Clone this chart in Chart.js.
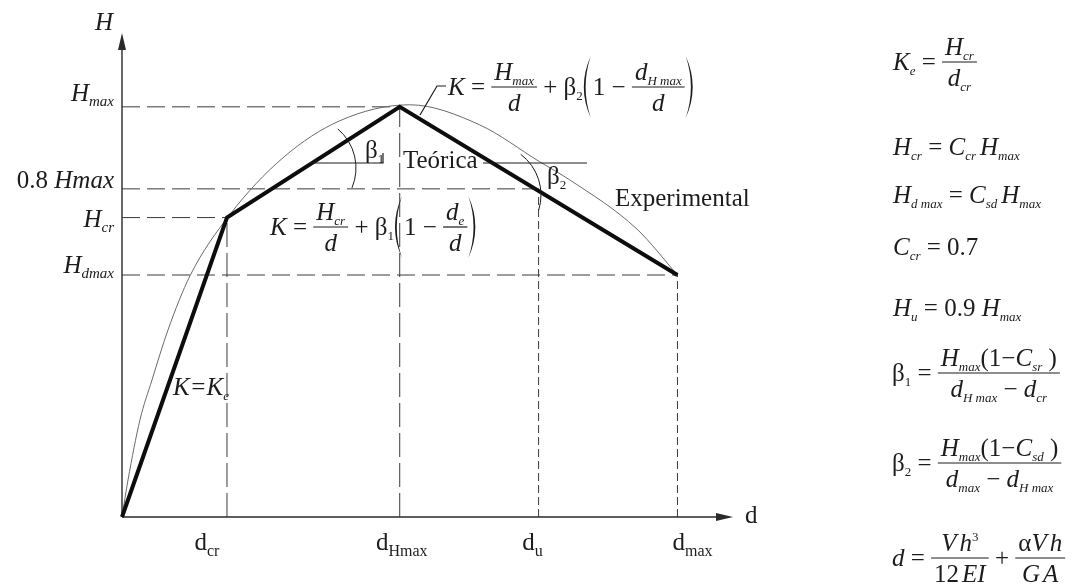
<!DOCTYPE html>
<html>
<head>
<meta charset="utf-8">
<script src="https://cdn.jsdelivr.net/npm/chart.js@4.4.1/dist/chart.umd.min.js"></script>
<style>
    body { margin: 0; background: #ffffff; }
    #wrap { width: 1079px; height: 584px; }
</style>
</head>
<body>
<div id="wrap"><canvas id="diagram" width="1079" height="584"></canvas></div>
<script>
// Lateral load H against displacement d, in units of H_max and d_max/10
const expD = [0, 1.89, 5.0, 10.0];
const expH = [0, 0.73, 1.0, 0.59];

const theoD = [0, 0.108, 0.324, 0.54, 0.828, 1.224, 1.94, 2.9, 3.92, 5.18, 6.44, 7.52, 8.06, 9.27, 10.0];
const theoH = [0, 0.09, 0.237, 0.334, 0.456, 0.588, 0.737, 0.876, 0.966, 1.005, 0.956, 0.866, 0.822, 0.702, 0.59];

// reference levels on the H axis and where each dashed line stops
const hLevels = [1.0, 0.8, 0.73, 0.59];
const hLevelEnds = [5.0, 7.5, 1.89, 10.0];
const hLabels = ['H_max', '0.8 Hmax', 'H_cr', 'H_dmax'];

// reference displacements and how high each dashed line rises
const dLevels = [1.89, 5.0, 7.5, 10.0];
const dLevelTops = [0.73, 1.0, 0.8, 0.59];
const dLabels = ['d_cr', 'd_Hmax', 'd_u', 'd_max'];

const ink = '#1c1c1c';
const SERIF = "'Liberation Serif', 'Times New Roman', serif";
const fontOf = {
    i: 'italic 25px ' + SERIF,
    r: '25px ' + SERIF,
    si: 'italic 13px ' + SERIF,
    sr: '13px ' + SERIF,
    sup: '13px ' + SERIF,
    li: 'italic 15px ' + SERIF,
    lr: '16px ' + SERIF
};
const shiftOf = { si: 5, sr: 5, li: 5, lr: 6, sup: -10 };

const I = t => ({ t: t, f: 'i' });
const R = t => ({ t: t, f: 'r' });
const Si = t => ({ t: t, f: 'si' });
const Sr = t => ({ t: t, f: 'sr' });
const Sup = t => ({ t: t, f: 'sup' });
const gap = n => ({ gap: n });
const frac = (num, den) => ({ num: num, den: den });
const paren = open => ({ paren: open ? '(' : ')' });

// lays out a row of math tokens from x on baseline y, returns its width
const mathRow = function (ctx, items, x, y, draw) {
    let cx = x;
    items.forEach(it => {
        if (it.gap !== undefined) {
            cx += it.gap;
            return;
        }
        if (it.num) {
            const wn = mathRow(ctx, it.num, 0, 0, false);
            const wd = mathRow(ctx, it.den, 0, 0, false);
            const w = Math.max(wn, wd) + 6;
            if (draw) {
                const axis = y - 8;
                mathRow(ctx, it.num, cx + (w - wn) / 2, axis - 7, true);
                mathRow(ctx, it.den, cx + (w - wd) / 2, axis + 24, true);
                ctx.beginPath();
                ctx.moveTo(cx, axis);
                ctx.lineTo(cx + w, axis);
                ctx.lineWidth = 1.2;
                ctx.stroke();
            }
            cx += w;
            return;
        }
        if (it.paren) {
            if (draw) {
                const axis = y - 8, h = 31, open = it.paren === '(';
                const xe = open ? cx + 8 : cx + 1;
                const xm = open ? cx + 1 : cx + 8;
                const dir = open ? 1 : -1;
                ctx.beginPath();
                ctx.moveTo(xe, axis - h);
                ctx.quadraticCurveTo(2 * xm - xe, axis, xe, axis + h);
                ctx.quadraticCurveTo(2 * (xm + 1.8 * dir) - xe, axis, xe, axis - h);
                ctx.fill();
            }
            cx += 10;
            return;
        }
        ctx.font = fontOf[it.f];
        if (draw) ctx.fillText(it.t, cx, y + (shiftOf[it.f] || 0));
        cx += ctx.measureText(it.t).width;
    });
    return cx - x;
}

// 'H_max' -> main glyph plus subscript, leading numbers stay upright
const labelTokens = function (lab, italic) {
    const parts = lab.split('_');
    const out = [];
    let main = parts[0];
    const num = main.match(/^[\d.]+ /);
    if (num) {
        out.push(R(num[0]));
        main = main.slice(num[0].length);
    }
    out.push(italic ? I(main) : R(main));
    if (parts[1]) out.push({ t: parts[1], f: italic ? 'li' : 'lr' });
    return out;
}

const formulas = [
    { x: 893, y: 70, row: [I('K'), Si('e'), R(' = '), frac([I('H'), Si('cr')], [I('d'), Si('cr')])] },
    { x: 893, y: 155, row: [I('H'), Si('cr'), R(' = '), I('C'), Si('cr'), gap(4), I('H'), Si('max')] },
    { x: 893, y: 203, row: [I('H'), Si('d max'), R(' = '), I('C'), Si('sd'), gap(4), I('H'), Si('max')] },
    { x: 893, y: 255, row: [I('C'), Si('cr'), R(' = 0.7')] },
    { x: 893, y: 316, row: [I('H'), Si('u'), R(' = 0.9 '), I('H'), Si('max')] },
    { x: 892, y: 381, row: [R('β'), Sr('1'), R(' = '), frac(
        [I('H'), Si('max'), R('(1−'), I('C'), Si('sr'), R(' )')],
        [I('d'), Si('H max'), R(' − '), I('d'), Si('cr')])] },
    { x: 892, y: 471, row: [R('β'), Sr('2'), R(' = '), frac(
        [I('H'), Si('max'), R('(1−'), I('C'), Si('sd'), R(' )')],
        [I('d'), Si('max'), R(' − '), I('d'), Si('H max')])] },
    { x: 892, y: 566, row: [I('d'), R(' = '), frac([I('V'), gap(3), I('h'), Sup('3')], [R('12'), gap(3), I('EI')]),
        R(' + '), frac([R('α'), I('V'), gap(3), I('h')], [I('G'), gap(3), I('A')])] },
    { x: 270, y: 235, row: [I('K'), R(' = '), frac([I('H'), Si('cr')], [I('d')]), R(' + '), R('β'), Sr('1'),
        paren(true), R('1 − '), frac([I('d'), Si('e')], [I('d')]), paren(false)] },
    { x: 448, y: 95, row: [I('K'), R(' = '), frac([I('H'), Si('max')], [I('d')]), R(' + '), R('β'), Sr('2'),
        paren(true), R('1 − '), frac([I('d'), Si('H max')], [I('d')]), paren(false)] },
    { x: 173, y: 395, row: [I('K=K'), Si('e')] },
    { x: 365, y: 158, row: [R('β'), Sr('1')] },
    { x: 547, y: 184, row: [R('β'), Sr('2')] },
    { x: 403, y: 168, row: [R('Teórica')] },
    { x: 615, y: 206, row: [R('Experimental')] }
];

const hLabelDy = [-6, -1, 9, -2];
const dLabelDx = [-20, 2, -6, 15];

const sketch = {
    id: 'sketch',
    beforeDatasetsDraw(chart) {
        const ctx = chart.ctx, xs = chart.scales.x, ys = chart.scales.y;
        const x0 = xs.getPixelForValue(0), y0 = ys.getPixelForValue(0);
        const xEnd = xs.right, yEnd = ys.top;
        ctx.save();
        ctx.strokeStyle = '#2a2a2a';
        ctx.fillStyle = '#2a2a2a';
        ctx.lineWidth = 1.4;
        ctx.beginPath();
        ctx.moveTo(x0, y0);
        ctx.lineTo(xEnd - 6, y0);
        ctx.moveTo(x0, y0);
        ctx.lineTo(x0, yEnd + 6);
        ctx.stroke();
        // arrow heads
        ctx.beginPath();
        ctx.moveTo(xEnd, y0);
        ctx.lineTo(xEnd - 17, y0 - 4);
        ctx.lineTo(xEnd - 17, y0 + 4);
        ctx.closePath();
        ctx.moveTo(x0, yEnd);
        ctx.lineTo(x0 - 4, yEnd + 17);
        ctx.lineTo(x0 + 4, yEnd + 17);
        ctx.closePath();
        ctx.fill();
        ctx.restore();
    },
    afterDatasetsDraw(chart) {
        const ctx = chart.ctx, xs = chart.scales.x, ys = chart.scales.y;
        const x0 = xs.getPixelForValue(0), y0 = ys.getPixelForValue(0);
        ctx.save();
        ctx.fillStyle = ink;
        ctx.strokeStyle = ink;
        ctx.textBaseline = 'alphabetic';
        ctx.textAlign = 'left';

        hLabels.forEach((lab, i) => {
            const row = labelTokens(lab, true);
            const w = mathRow(ctx, row, 0, 0, false);
            mathRow(ctx, row, x0 - 8 - w, ys.getPixelForValue(hLevels[i]) + hLabelDy[i], true);
        });
        dLabels.forEach((lab, i) => {
            const row = labelTokens(lab, false);
            const w = mathRow(ctx, row, 0, 0, false);
            mathRow(ctx, row, xs.getPixelForValue(dLevels[i]) + dLabelDx[i] - w / 2, y0 + 33, true);
        });
        mathRow(ctx, [I('H')], x0 - 27, ys.top - 3, true);
        mathRow(ctx, [R('d')], xs.right + 12, y0 + 6, true);

        formulas.forEach(f => mathRow(ctx, f.row, f.x, f.y, true));

        // angle markers and the leader to the descending branch
        ctx.lineWidth = 1.2;
        ctx.beginPath();
        ctx.moveTo(310, 163);
        ctx.lineTo(383, 163);
        ctx.lineTo(383, 153);
        ctx.moveTo(483, 163);
        ctx.lineTo(587, 163);
        ctx.moveTo(420, 115);
        ctx.lineTo(437, 86);
        ctx.lineTo(446, 86);
        ctx.stroke();
        ctx.lineWidth = 1;
        ctx.beginPath();
        ctx.arc(305, 168, 51, -50 * Math.PI / 180, 23 * Math.PI / 180);
        ctx.stroke();
        ctx.beginPath();
        ctx.arc(490, 195, 51, -53 * Math.PI / 180, 17 * Math.PI / 180);
        ctx.stroke();
        ctx.restore();
    }
};

const pairs = (xs, ys) => xs.map((x, i) => ({ x: x, y: ys[i] }));

const guides = [];
hLevels.forEach((h, i) => {
    guides.push({
        data: [{ x: 0, y: h }, { x: hLevelEnds[i], y: h }],
        borderColor: '#3a3a3a', borderWidth: 1, borderDash: [18, 7], order: 2
    });
});
dLevels.forEach((d, i) => {
    guides.push({
        data: [{ x: d, y: 0 }, { x: d, y: dLevelTops[i] }],
        borderColor: '#3a3a3a', borderWidth: 1, borderDash: i < 2 ? [24, 6] : [8, 4], order: 2
    });
});

new Chart(document.getElementById('diagram'), {
    type: 'scatter',
    data: {
        datasets: [{
            label: 'Experimental',
            data: pairs(expD, expH),
            borderColor: '#0d0d0d',
            borderWidth: 4,
            order: 0
        }, {
            label: 'Teórica',
            data: pairs(theoD, theoH),
            borderColor: '#6a6a6a',
            borderWidth: 1,
            cubicInterpolationMode: 'monotone',
            order: 1
        }].concat(guides)
    },
    plugins: [sketch],
    options: {
        responsive: false,
        animation: false,
        devicePixelRatio: 1,
        showLine: true,
        clip: false,
        elements: { point: { radius: 0 } },
        layout: { padding: { left: 122, right: 346, top: 33, bottom: 67 } },
        scales: {
            x: { type: 'linear', min: 0, max: 11, display: false },
            y: { type: 'linear', min: 0, max: 1.18, display: false }
        },
        plugins: {
            legend: { display: false },
            tooltip: { enabled: false }
        }
    }
});
</script>
</body>
</html>
